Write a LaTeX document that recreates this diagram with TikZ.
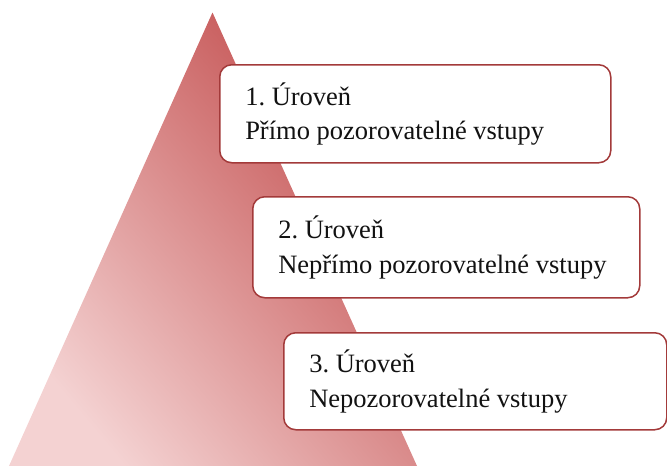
\documentclass[tikz,border=0pt]{standalone}
\usepackage{fontspec}
\setmainfont{Liberation Serif}
\definecolor{boxred}{HTML}{A33A3A}
\definecolor{darkpink}{HTML}{C24C4C}
\definecolor{lightpink}{HTML}{F4D2D2}
\begin{document}
\frenchspacing
\begin{tikzpicture}[x=1pt,y=-1pt,
  levelbox/.style={draw=boxred, line width=1.5pt, fill=white, rounded corners=12pt,
    anchor=north west, inner xsep=25.5pt, inner ysep=0pt, align=flush left,
    font=\fontsize{26.5}{34.5}\selectfont, text=black!93}]
\useasboundingbox (0,0) rectangle (667,466);
\shade[left color=lightpink, right color=darkpink, shading angle=130]
  (212.5,12.5) -- (417,466) -- (9,466) -- cycle;
\node[levelbox, text width=340pt, minimum height=98pt] (l1) at (219,64)
  {1. Úroveň\\Přímo pozorovatelné vstupy};
\node[levelbox, text width=336pt, minimum height=101pt] (l2) at (252,196)
  {2. Úroveň\\Nepřímo pozorovatelné vstupy};
\node[levelbox, text width=332pt, minimum height=97pt] (l3) at (283,332)
  {3. Úroveň\\Nepozorovatelné vstupy};
\end{tikzpicture}
\end{document}
